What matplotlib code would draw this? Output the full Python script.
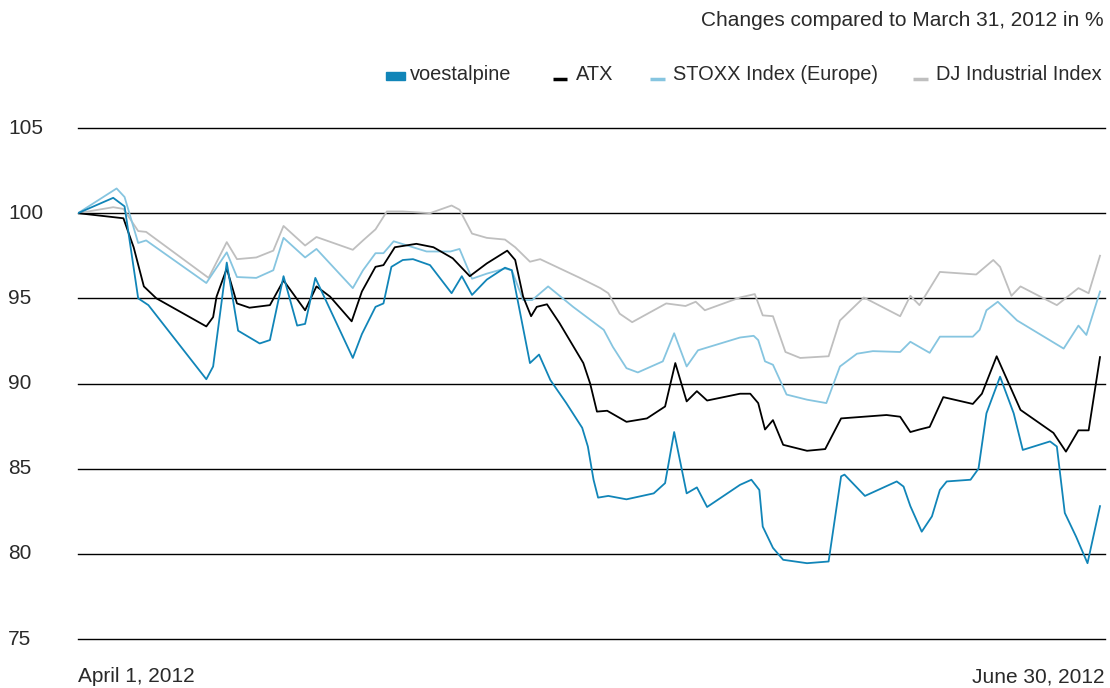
import numpy as np
import matplotlib
matplotlib.use('Agg')
import matplotlib.pyplot as plt
from matplotlib.lines import Line2D
from matplotlib.patches import Rectangle

#Data: days since April 1, 2012 and index values (March 31, 2012 = 100)
#---------------------------------
voest_x = [0, 3.1, 4.1, 5.3, 6.2, 11.3, 11.9, 13.1, 14.1, 16.0, 16.9, 18.1, 19.3, 20.0, 20.9,
           24.2, 25.0, 26.2, 26.9, 27.6, 28.6, 29.5, 31.0, 32.9, 33.8, 34.7, 36.0, 37.6, 38.2,
           39.8, 40.6, 41.6, 43.0, 44.4, 44.9, 45.4, 45.8, 46.7, 48.3, 50.7, 51.7, 52.5, 53.6,
           54.5, 55.4, 58.3, 59.3, 60.0, 60.3, 61.2, 62.1, 64.2, 66.1, 67.2, 67.5, 69.3, 72.1,
           72.7, 73.3, 74.3, 75.2, 75.9, 76.5, 78.6, 79.3, 80.0, 81.2, 82.4, 83.2, 85.6, 86.2,
           86.9, 87.9, 88.9, 90]
voest_y = [100, 100.9, 100.4, 95.0, 94.6, 90.25, 91.0, 97.1, 93.1, 92.35, 92.55, 96.3, 93.4, 93.5, 96.2,
           91.5, 92.9, 94.5, 94.7, 96.85, 97.25, 97.3, 96.95, 95.3, 96.3, 95.2, 96.1, 96.8, 96.65,
           91.2, 91.7, 90.2, 88.85, 87.4, 86.3, 84.35, 83.3, 83.4, 83.2, 83.55, 84.15, 87.15, 83.55,
           83.9, 82.75, 84.05, 84.35, 83.75, 81.6, 80.35, 79.65, 79.45, 79.55, 84.55, 84.65, 83.4, 84.25,
           83.95, 82.8, 81.3, 82.2, 83.75, 84.25, 84.35, 85.0, 88.25, 90.4, 88.25, 86.1, 86.6, 86.3,
           82.4, 81.0, 79.45, 82.8]

atx_x = [0, 4.0, 4.9, 5.8, 6.9, 11.3, 11.9, 12.2, 13.1, 14.0, 15.1, 16.9, 18.1, 20.0, 21.0, 22.2,
         24.1, 25.0, 26.2, 26.9, 27.9, 29.8, 31.3, 33.0, 34.5, 36.0, 37.8, 38.5, 39.2, 39.9, 40.4,
         41.3, 42.4, 44.5, 45.1, 45.7, 46.6, 48.3, 50.1, 51.7, 52.6, 53.6, 54.5, 55.4, 58.3, 59.2,
         59.9, 60.5, 61.2, 62.1, 64.2, 65.8, 67.2, 71.2, 72.4, 73.3, 74.1, 75.0, 76.2, 78.8, 79.6,
         80.9, 83.0, 85.9, 87.0, 88.1, 89.0, 90]
atx_y = [100, 99.7, 98.0, 95.7, 95.0, 93.35, 93.9, 95.1, 96.75, 94.7, 94.45, 94.6, 96.05, 94.3, 95.7, 95.1,
         93.65, 95.4, 96.85, 96.95, 98.0, 98.2, 98.0, 97.35, 96.3, 97.05, 97.8, 97.25, 95.1, 93.95, 94.5,
         94.65, 93.55, 91.2, 90.0, 88.35, 88.4, 87.75, 87.95, 88.65, 91.2, 88.95, 89.55, 89.0, 89.4, 89.4,
         88.85, 87.3, 87.85, 86.4, 86.05, 86.15, 87.95, 88.15, 88.05, 87.15, 87.3, 87.45, 89.2, 88.8, 89.4,
         91.6, 88.45, 87.1, 86.0, 87.25, 87.25, 91.55]

stoxx_x = [0, 3.4, 4.1, 5.3, 6.0, 11.3, 13.1, 14.0, 15.7, 17.2, 18.1, 20.0, 21.0, 24.2, 25.1, 26.2,
           26.9, 27.8, 30.7, 32.8, 33.6, 34.7, 36.0, 37.6, 38.2, 39.2, 40.0, 41.4, 43.6, 46.3, 47.1,
           48.3, 49.3, 51.5, 52.5, 53.6, 54.6, 58.3, 59.5, 59.9, 60.5, 61.2, 62.4, 64.2, 65.9, 67.1,
           68.6, 70.0, 72.4, 73.3, 75.0, 75.9, 78.8, 79.4, 80.0, 81.0, 82.7, 86.8, 88.1, 88.8, 90]
stoxx_y = [100, 101.45, 100.95, 98.25, 98.4, 95.9, 97.7, 96.25, 96.2, 96.65, 98.55, 97.4, 97.9, 95.6, 96.65, 97.65,
           97.65, 98.35, 97.75, 97.75, 97.9, 96.15, 96.45, 96.75, 96.65, 94.9, 94.9, 95.7, 94.5, 93.15, 92.15,
           90.9, 90.65, 91.3, 92.95, 91.0, 91.95, 92.7, 92.8, 92.55, 91.3, 91.1, 89.35, 89.05, 88.85, 91.0,
           91.75, 91.9, 91.85, 92.45, 91.8, 92.75, 92.75, 93.15, 94.3, 94.8, 93.7, 92.05, 93.4, 92.85, 95.4]

dj_x = [0, 3.1, 4.0, 5.3, 6.0, 11.5, 13.1, 14.0, 15.7, 17.2, 18.1, 20.0, 21.0, 24.2, 25.1, 26.2,
        27.2, 28.6, 31.0, 32.9, 33.6, 34.7, 36.0, 37.6, 38.5, 39.8, 40.7, 44.2, 46.0, 46.7, 47.7,
        48.8, 51.8, 53.5, 54.4, 55.2, 58.3, 59.6, 60.3, 61.2, 62.3, 63.6, 66.1, 67.1, 69.2, 72.4,
        73.3, 74.1, 75.9, 79.1, 80.6, 81.2, 82.2, 83.0, 86.2, 88.1, 89.0, 90]
dj_y = [100, 100.35, 100.25, 98.95, 98.9, 96.2, 98.3, 97.3, 97.4, 97.8, 99.25, 98.1, 98.6, 97.85, 98.4, 99.05,
        100.1, 100.1, 100.0, 100.45, 100.2, 98.8, 98.55, 98.45, 98.0, 97.15, 97.3, 96.2, 95.6, 95.3, 94.1,
        93.6, 94.7, 94.55, 94.8, 94.3, 95.05, 95.25, 94.0, 93.95, 91.85, 91.5, 91.6, 93.7, 95.05, 93.95,
        95.15, 94.6, 96.55, 96.4, 97.25, 96.85, 95.15, 95.7, 94.6, 95.6, 95.3, 97.5]

y_ticks = [75, 80, 85, 90, 95, 100, 105]
names = ['voestalpine', 'ATX', 'STOXX Index (Europe)', 'DJ Industrial Index']
colors = ['#1185b8', '#000000', '#86c5e0', '#bfbfbf']
#---------------------------------

plt.rcParams['font.family'] = ['Liberation Sans', 'DejaVu Sans']
W, H = 1110, 688
fs = 15; fs_leg = 14.4; txt_c = '#2a2a2a'
fig = plt.figure(figsize=(W/100, H/100), dpi=100)
ax = fig.add_axes([78/W, (H-639)/H, (1105-78)/W, (639-128)/H])

#Grid lines
for t in y_ticks:
    ax.axhline(t, color='black', lw=1.0, zorder=1, clip_on=False)

#Series (draw order: DJ at back, voestalpine in front)
ax.plot(dj_x, dj_y, color=colors[3], lw=1.3, zorder=2)
ax.plot(stoxx_x, stoxx_y, color=colors[2], lw=1.3, zorder=3)
ax.plot(atx_x, atx_y, color=colors[1], lw=1.3, zorder=4)
ax.plot(voest_x, voest_y, color=colors[0], lw=1.3, zorder=5)

ax.set_xlim(0, 90*(1105-78)/1022)
ax.set_ylim(75, 105)
ax.axis('off')

#Y labels (left aligned at figure edge)
for t in y_ticks:
    y_fig = ax.transData.transform((0, t))[1]/H
    fig.text(8/W, y_fig, str(t), ha='left', va='center', fontsize=fs, color=txt_c)

#Bottom labels
fig.text(78/W, 1-677/H, 'April 1, 2012', ha='left', va='center', fontsize=fs, color=txt_c)
fig.text(1104/W, 1-677/H, 'June 30, 2012', ha='right', va='center', fontsize=fs, color=txt_c)

#Title
fig.text(1104/W, 1-21/H, 'Changes compared to March 31, 2012 in %', ha='right', va='center',
         fontsize=fs, color=txt_c)

#Legend (manual)
leg_y = 1-75/H
fig.patches.append(Rectangle((386/W, 1-80/H), 19/W, 8/H, transform=fig.transFigure,
                             color=colors[0], figure=fig))
fig.text(410/W, leg_y, names[0], ha='left', va='center', fontsize=fs_leg, color=txt_c)
for x0, x1, xt, c, n in [(553, 567, 576, colors[1], names[1]),
                         (650, 665, 673, colors[2], names[2]),
                         (913, 928, 936, colors[3], names[3])]:
    fig.lines.append(Line2D([x0/W, x1/W], [1-79/H, 1-79/H], transform=fig.transFigure,
                            color=c, lw=2.5, solid_capstyle='butt', figure=fig))
    fig.text(xt/W, leg_y, n, ha='left', va='center', fontsize=fs_leg, color=txt_c)

plt.savefig('out.png', dpi=100)
